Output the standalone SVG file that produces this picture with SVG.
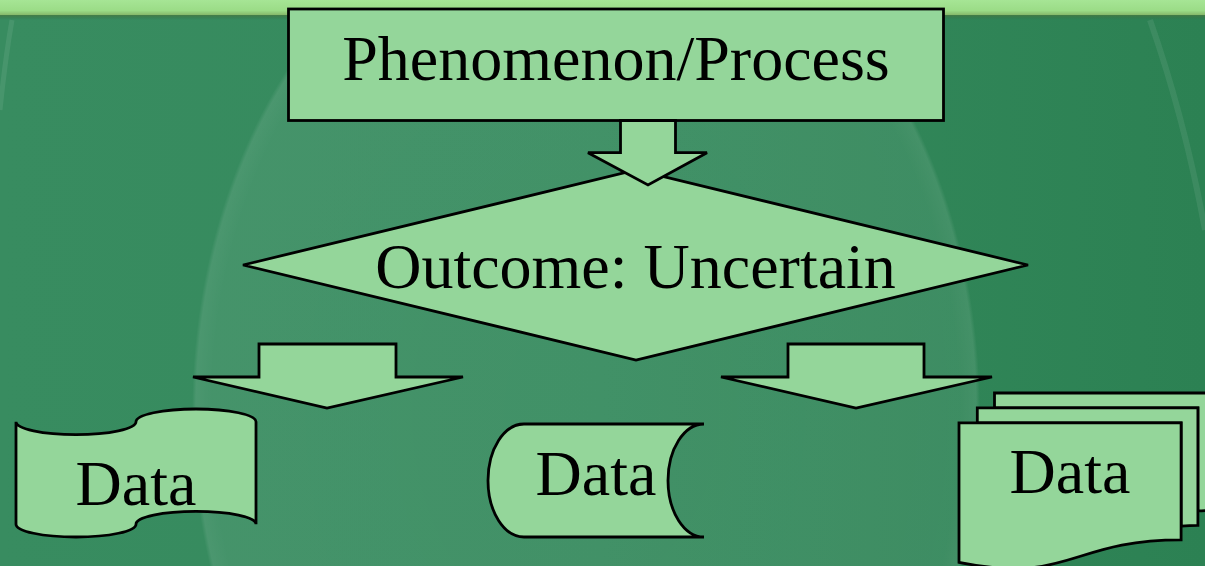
<svg xmlns="http://www.w3.org/2000/svg" width="1205" height="566" viewBox="0 0 1205 566">
  <defs>
    <linearGradient id="board" x1="0" y1="0" x2="1" y2="0">
      <stop offset="0" stop-color="#388c60"/>
      <stop offset="0.5" stop-color="#358a5d"/>
      <stop offset="1" stop-color="#2c8153"/>
    </linearGradient>
    <linearGradient id="band" x1="0" y1="0" x2="0" y2="1">
      <stop offset="0" stop-color="#a6e595"/>
      <stop offset="0.7" stop-color="#9bdc87"/>
      <stop offset="1" stop-color="#86b86a"/>
    </linearGradient>
    <linearGradient id="shade" x1="0" y1="0" x2="0" y2="1">
      <stop offset="0" stop-color="#4a7a40" stop-opacity="0.8"/>
      <stop offset="1" stop-color="#2f6a45" stop-opacity="0"/>
    </linearGradient>
    <radialGradient id="glow" cx="0.5" cy="0.5" r="0.5">
      <stop offset="0" stop-color="#ffffff" stop-opacity="0.06"/>
      <stop offset="0.95" stop-color="#ffffff" stop-opacity="0.07"/>
      <stop offset="0.99" stop-color="#ffffff" stop-opacity="0.1"/>
      <stop offset="1" stop-color="#ffffff" stop-opacity="0"/>
    </radialGradient>
    <style>
      .shape { fill: #94d69a; stroke: #000; stroke-width: 2.8; stroke-linejoin: miter; }
      .label { font-family: "Liberation Serif", "Times New Roman", serif; font-size: 64px; fill: #000; text-anchor: middle; }
    </style>
  </defs>

  <!-- chalkboard background -->
  <rect x="0" y="0" width="1205" height="566" fill="url(#board)"/>
  <ellipse cx="586" cy="411" rx="394" ry="525" fill="url(#glow)"/>
  <path d="M1150,20 Q1185,120 1205,230" fill="none" stroke="#ffffff" stroke-opacity="0.08" stroke-width="6"/>
  <path d="M12,20 Q5,60 0,110" fill="none" stroke="#ffffff" stroke-opacity="0.08" stroke-width="5"/>
  <rect x="0" y="0" width="1205" height="15" fill="url(#band)"/>
  <rect x="0" y="15" width="1205" height="5" fill="url(#shade)"/>

  <!-- top process box -->
  <g id="process">
    <rect class="shape" x="288.5" y="9" width="655" height="111.5"/>
    <text class="label" x="616" y="80">Phenomenon/Process</text>
  </g>

  <!-- decision diamond -->
  <g id="decision">
    <polygon class="shape" points="243,265 636,170 1028,265 636,360"/>
    <text class="label" x="635.5" y="288">Outcome: Uncertain</text>
  </g>

  <!-- punched tape data -->
  <g id="data-tape">
    <path class="shape" d="M16,421.8 A60,12.8 0 0 0 136,421.8 A60,12.8 0 0 1 256,421.8 L256,524.2 A60,12.8 0 0 0 136,524.2 A60,12.8 0 0 1 16,524.2 Z"/>
    <text class="label" x="136" y="505">Data</text>
  </g>

  <!-- stored data -->
  <g id="data-stored">
    <path class="shape" d="M524,424 L704,424 A36,56.5 0 0 0 704,537 L524,537 A36,56.5 0 0 1 524,424 Z"/>
    <text class="label" x="596" y="495">Data</text>
  </g>

  <!-- multiple documents -->
  <g id="data-documents">
    <path class="shape" d="M994.5,407.8 L994.5,393 L1217,393 L1217,510.3 C1207.4,510.3 1197.9,510.9 1197.9,510.9 L1197.9,407.8 Z"/>
    <path class="shape" d="M977.3,422.9 L977.3,407.8 L1197.9,407.8 L1197.9,525.4 C1189.5,525.4 1181.1,526.2 1181.1,526.2 L1181.1,422.9 Z"/>
    <path class="shape" d="M959,562.3 C1070.1,584.8 1070.1,539.8 1181.1,539.8 L1181.1,422.9 L959,422.9 Z"/>
    <text class="label" x="1070" y="493">Data</text>
  </g>

  <!-- block arrow connectors -->
  <g id="connectors">
    <polygon class="shape" points="620.5,120.5 675.5,120.5 675.5,152.7 707,152.7 648,185 588,152.7 620.5,152.7"/>
    <polygon class="shape" points="259,344 396,344 396,377 463,377 327,408 193,377 259,377"/>
    <polygon class="shape" points="788,344 924,344 924,377 992,377 856,408 721,377 788,377"/>
  </g>
</svg>
